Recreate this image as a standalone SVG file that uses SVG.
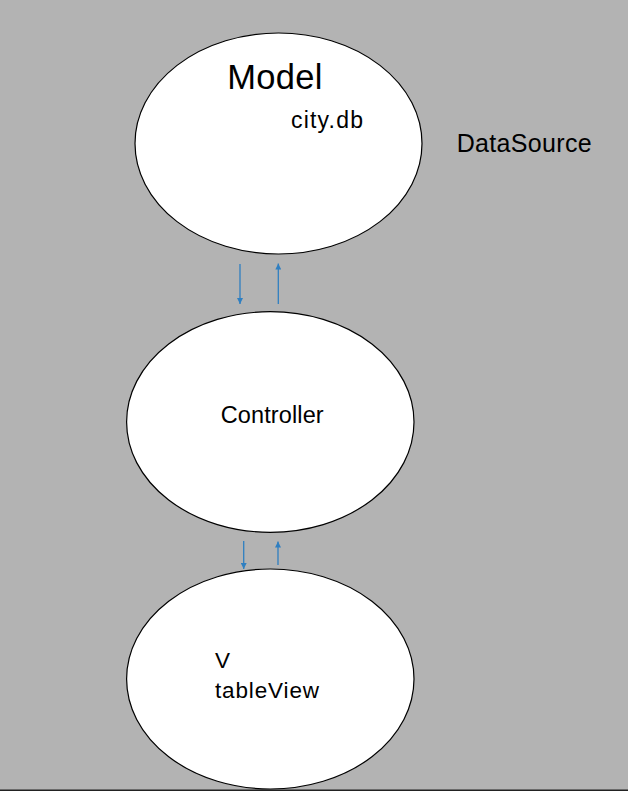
<svg xmlns="http://www.w3.org/2000/svg" width="628" height="791" viewBox="0 0 628 791">
<style>
.node{fill:#ffffff;stroke:#000000;stroke-width:1.2}
.lbl{font-family:"Liberation Sans",Arial,sans-serif;fill:#000000}
.conn{stroke:#2f7fc1;stroke-width:1.3;fill:none}
</style>
<defs>
<marker id="ah" viewBox="0 0 10 10" refX="10" refY="5" markerWidth="6" markerHeight="6" markerUnits="userSpaceOnUse" orient="auto">
<path d="M0,0 L10,5 L0,10 Z" fill="#2f7fc1"/>
</marker>
</defs>
<rect x="0" y="0" width="628" height="791" fill="#b3b3b3"/>
<line x1="0" y1="790.3" x2="628" y2="790.3" stroke="#222222" stroke-width="1.5"/>
<g id="model">
<ellipse class="node" cx="278.5" cy="143.5" rx="143.5" ry="110.5"/>
<text class="lbl" x="227.3" y="89.3" font-size="34.5" textLength="95">Model</text>
<text class="lbl" x="291" y="128" font-size="23" textLength="72">city.db</text>
</g>
<g id="datasource">
<text class="lbl" x="456.7" y="152.3" font-size="25" textLength="135">DataSource</text>
</g>
<g id="controller">
<ellipse class="node" cx="270.3" cy="422" rx="143.7" ry="110.3"/>
<text class="lbl" x="220.7" y="423.3" font-size="23.5" textLength="103">Controller</text>
</g>
<g id="view">
<ellipse class="node" cx="270.3" cy="679" rx="143.7" ry="110"/>
<text class="lbl" x="215" y="668.3" font-size="22.5">V</text>
<text class="lbl" x="215" y="698.3" font-size="22.5" textLength="104">tableView</text>
</g>
<g id="connectors">
<line class="conn" x1="240" y1="264" x2="240" y2="304" marker-end="url(#ah)"/>
<line class="conn" x1="278.3" y1="304" x2="278.3" y2="263.5" marker-end="url(#ah)"/>
<line class="conn" x1="243.7" y1="541" x2="243.7" y2="569" marker-end="url(#ah)"/>
<line class="conn" x1="278" y1="565" x2="278" y2="541.5" marker-end="url(#ah)"/>
</g>
</svg>
